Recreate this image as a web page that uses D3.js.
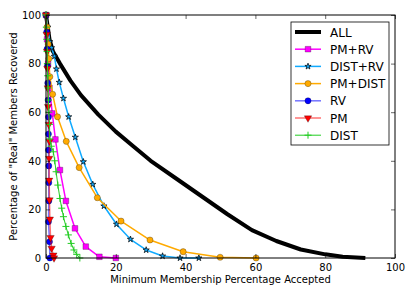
<!DOCTYPE html>
<html>
<head>
<meta charset="utf-8">
<script src="https://cdn.jsdelivr.net/npm/d3@7"></script>
<style>
  body { margin: 0; background: #fff; }
  svg { font-family: "DejaVu Sans", sans-serif; }
</style>
</head>
<body>
<svg id="chart" width="415" height="297"></svg>
<script>
// series values: [minimum membership %, % recovered]
const ALL = [[0,100],[1,90],[2,85],[4,80],[7,73],[10,67],[15,59],[20,52],[25,46],[30,40],[38,32],[45,25],[52,18],[59,11.5],[66,7],[73,3.5],[80,1.5],[85,0.5],[91.5,0]];
const PM_RV = [[0,100],[0.3,90],[0.6,80],[1,70],[1.8,59.5],[2.7,48.8],[4,36.2],[5.7,23.5],[8.3,12.2],[11.4,4.7],[15.3,0.5],[20,0]];
const DIST_RV = [[0,100],[0.5,95],[1.1,89],[1.6,86.5],[2.4,83],[3,77.8],[3.8,72.3],[5,65.7],[6.5,58.1],[8.4,49.7],[10.7,39.6],[13.4,30.3],[16.6,21.4],[20.2,13.9],[24.2,7.7],[28.7,3.3],[33.4,0.8],[38.4,0],[43.8,0]];
const PM_DIST = [[0,100],[0.3,95],[0.6,88],[0.8,82],[1.1,74.6],[1.9,67.4],[3.3,58.1],[5.8,48],[9.5,37.2],[14.7,24.8],[21.5,15.2],[29.8,7.4],[39.3,2.6],[49.9,0.3],[60.2,0]];
const RV = [[0,100],[0.2,93],[0.3,86],[0.4,79],[0.5,72],[0.6,65],[0.7,58],[0.7,51],[0.7,44.4],[0.8,37.9],[0.8,31],[0.8,23.5],[0.7,14.9],[1,6.7],[1.1,0]];
const PM = [[0,100],[0.2,92],[0.3,85],[0.4,78],[0.5,70],[0.6,62.3],[0.8,55],[1,48],[0.9,41],[0.9,32],[1,23.9],[1.1,16],[1.3,8.4],[1.6,4],[2.1,1.2],[2.3,0]];
const DIST = [[0,100],[0.1,95],[0.2,90],[0.3,85],[0.4,80],[0.5,75],[0.6,70],[0.7,65],[0.8,60],[1,55],[1.1,49],[1.5,46],[2.1,43.7],[2.5,40],[2.9,35.5],[3.4,30],[4,24.5],[4.5,20.5],[5,17],[5.7,13],[6.4,9.5],[7.2,6],[8,3.3],[8.8,1.5],[9.7,0]];

const xTicks = [0, 20, 40, 60, 80, 100];
const yTicks = [0, 20, 40, 60, 80, 100];

const series = [
  {name: 'ALL',      data: ALL,     color: '#000000', width: 4,   marker: null},
  {name: 'PM+RV',    data: PM_RV,   color: '#ff00ff', width: 1.5, marker: 'square'},
  {name: 'DIST+RV',  data: DIST_RV, color: '#10aaff', width: 1.5, marker: 'star'},
  {name: 'PM+DIST',  data: PM_DIST, color: '#ffaa00', width: 1.5, marker: 'circle'},
  {name: 'RV',       data: RV,      color: '#0000ff', width: 1.5, marker: 'circle', alpha: 0.55},
  {name: 'PM',       data: PM,      color: '#ff0000', width: 1.5, marker: 'triangle', alpha: 0.55},
  {name: 'DIST',     data: DIST,    color: '#22cc22', width: 1,   marker: 'cross'}
];

const svg = d3.select('#chart');
const m = {left: 46, right: 20, top: 15, bottom: 39};
const W = 415 - m.left - m.right;
const H = 297 - m.top - m.bottom;

const x = d3.scaleLinear().domain([0, 100]).range([0, W]);
const y = d3.scaleLinear().domain([0, 100]).range([H, 0]);

const g = svg.append('g').attr('transform', `translate(${m.left},${m.top})`);

g.append('clipPath').attr('id', 'clip')
  .append('rect').attr('x', -6).attr('y', -6).attr('width', W + 12).attr('height', H + 12);

const symbols = {
  square: d3.symbol().type(d3.symbolSquare).size(32),
  circle: d3.symbol().type(d3.symbolCircle).size(30),
  star: d3.symbol().type(d3.symbolStar).size(12),
  triangle: d3.symbol().type(d3.symbolTriangle).size(24),
  cross: null
};

function drawMarker(sel, s, px, py) {
  if (!s.marker) return;
  if (s.marker === 'cross') {
    sel.append('path')
      .attr('d', `M${px - 3.5},${py}H${px + 3.5}M${px},${py - 3.5}V${py + 3.5}`)
      .attr('stroke', s.color).attr('stroke-width', 1).attr('fill', 'none');
    return;
  }
  const rot = s.marker === 'triangle' ? ' rotate(180)' : '';
  sel.append('path')
    .attr('d', symbols[s.marker]())
    .attr('transform', `translate(${px},${py})${rot}`)
    .attr('fill', s.color)
    .attr('stroke', '#000').attr('stroke-opacity', s.marker === 'star' ? 0.8 : 0.45)
    .attr('stroke-width', s.marker === 'star' ? 0.9 : 0.6);
}

const line = d3.line().x(d => x(d[0])).y(d => y(d[1]));
const plot = g.append('g').attr('clip-path', 'url(#clip)');

series.forEach(s => {
  plot.append('path')
    .datum(s.data)
    .attr('d', line)
    .attr('fill', 'none')
    .attr('stroke', s.color)
    .attr('stroke-opacity', s.alpha || 1)
    .attr('stroke-width', s.width)
    .attr('stroke-linejoin', 'round');
  const mk = plot.append('g');
  s.data.forEach(d => drawMarker(mk, s, x(d[0]), y(d[1])));
});

// axes: classic matplotlib look, ticks inward on all four sides
const axB = g.append('g').attr('transform', `translate(0,${H})`)
  .call(d3.axisBottom(x).tickValues(xTicks).tickSize(-4).tickPadding(6));
const axT = g.append('g')
  .call(d3.axisTop(x).tickValues(xTicks).tickSize(-4).tickFormat(''));
const axL = g.append('g')
  .call(d3.axisLeft(y).tickValues(yTicks).tickSize(-4).tickPadding(5));
const axR = g.append('g').attr('transform', `translate(${W},0)`)
  .call(d3.axisRight(y).tickValues(yTicks).tickSize(-4).tickFormat(''));
[axB, axT, axL, axR].forEach(a => {
  a.select('.domain').remove();
  a.selectAll('line').attr('stroke', '#000').attr('stroke-width', 0.6);
  a.selectAll('text').attr('font-size', 10).attr('fill', '#000').attr('font-family', 'DejaVu Sans');
});

g.append('rect').attr('width', W).attr('height', H)
  .attr('fill', 'none').attr('stroke', '#000').attr('stroke-width', 1);

svg.append('text')
  .attr('x', m.left + W / 2).attr('y', 283)
  .attr('text-anchor', 'middle').attr('font-size', 10)
  .text('Minimum Membership Percentage Accepted');

svg.append('text')
  .attr('transform', `translate(17,${m.top + H / 2}) rotate(-90)`)
  .attr('text-anchor', 'middle').attr('font-size', 10)
  .text('Percentage of "Real" Members Recovered');

// legend
const leg = g.append('g').attr('transform', `translate(${291 - m.left},${22 - m.top})`);
leg.append('rect').attr('width', 98).attr('height', 123)
  .attr('fill', '#fff').attr('stroke', '#000').attr('stroke-width', 0.8);
series.forEach((s, i) => {
  const cy = 10 + i * 17.2;
  const row = leg.append('g');
  row.append('line').attr('x1', 4).attr('x2', 30).attr('y1', cy).attr('y2', cy)
    .attr('stroke', s.color).attr('stroke-opacity', s.alpha || 1)
    .attr('stroke-width', s.width);
  drawMarker(row, s, 17, cy);
  row.append('text').attr('x', 39).attr('y', cy + 4.5)
    .attr('font-size', 12).text(s.name);
});
</script>
</body>
</html>
